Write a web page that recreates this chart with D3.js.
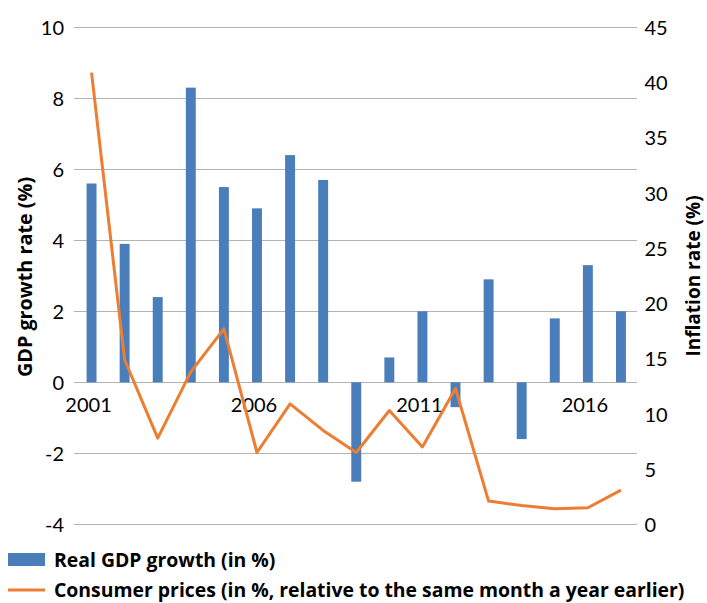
<!DOCTYPE html>
<html>
<head>
<meta charset="utf-8">
<script src="https://cdn.jsdelivr.net/npm/d3@7/dist/d3.min.js"></script>
<style>
  html, body { margin: 0; padding: 0; background: #fff; }
  svg { display: block; font-family: Lato, "Open Sans", sans-serif; }
</style>
</head>
<body>
<svg id="chart" width="707" height="603"></svg>
<script>
// Years on the category axis
const years = [2001, 2002, 2003, 2004, 2005, 2006, 2007, 2008, 2009,
               2010, 2011, 2012, 2013, 2014, 2015, 2016, 2017];
// Real GDP growth, % (left axis)
const gdpGrowth = [5.6, 3.9, 2.4, 8.3, 5.5, 4.9, 6.4, 5.7, -2.8,
                   0.7, 2.0, -0.7, 2.9, -1.6, 1.8, 3.3, 2.0];
// Consumer price inflation, % year on year (right axis)
const inflation = [40.9, 14.9, 7.8, 13.8, 17.7, 6.5, 10.9, 8.5, 6.5,
                   10.3, 7.0, 12.3, 2.1, 1.7, 1.4, 1.5, 3.1];
// Tick labels
const leftTicks = [-4, -2, 0, 2, 4, 6, 8, 10];
const rightTicks = [0, 5, 10, 15, 20, 25, 30, 35, 40, 45];
const yearLabels = [2001, 2006, 2011, 2016];
// Legend entries
const seriesNames = ["Real GDP growth (in %)",
                     "Consumer prices (in %, relative to the same month a year earlier)"];

const blue = "#4a7ebb";
const orange = "#ed7d31";
const grid = "#b3b3b3";
const tickFont = "Lato, sans-serif";
const boldFont = "'Open Sans', sans-serif";
const plain = d => String(d);   // plain hyphen for negatives

const svg = d3.select("#chart");
const plot = { left: 75, right: 637.5, top: 27.3, bottom: 524.3 };

const x = d3.scaleBand()
  .domain(years)
  .range([plot.left, plot.right])
  .paddingInner(0.7)
  .paddingOuter(0.35);
const cx = d => x(d) + x.bandwidth() / 2;

const yL = d3.scaleLinear().domain([-4, 10]).range([plot.bottom, plot.top]);
const yR = d3.scaleLinear().domain([0, 45]).range([plot.bottom, plot.top]);

// Horizontal gridlines from the left axis
const leftAxis = d3.axisLeft(yL).tickValues(leftTicks)
  .tickSize(-(plot.right - plot.left + 0.5)).tickPadding(10).tickFormat(plain);
const gL = svg.append("g").attr("transform", `translate(${plot.left - 1},0)`).call(leftAxis);
gL.select(".domain").remove();
gL.selectAll(".tick line").attr("stroke", grid).attr("stroke-width", 1)
  .attr("shape-rendering", "crispEdges");
gL.selectAll(".tick text").attr("font-size", 20).attr("fill", "#000")
  .attr("font-family", tickFont).attr("dy", "0.36em");

// Right axis labels
const rightAxis = d3.axisRight(yR).tickValues(rightTicks).tickSize(0).tickPadding(7)
  .tickFormat(plain);
const gR = svg.append("g").attr("transform", `translate(${plot.right},0)`).call(rightAxis);
gR.select(".domain").remove();
gR.selectAll(".tick text").attr("font-size", 20).attr("fill", "#000")
  .attr("font-family", tickFont).attr("dy", "0.36em");

// GDP bars
svg.append("g").selectAll("rect")
  .data(years.map((yr, i) => ({ yr, v: gdpGrowth[i] })))
  .join("rect")
  .attr("x", d => x(d.yr))
  .attr("width", x.bandwidth())
  .attr("y", d => yL(Math.max(0, d.v)))
  .attr("height", d => Math.abs(yL(d.v) - yL(0)))
  .attr("fill", blue);

// Year labels just below the zero line
const xAxis = d3.axisBottom(x).tickValues(yearLabels).tickSize(0).tickPadding(16)
  .tickFormat(plain);
const gX = svg.append("g").attr("transform", `translate(-3,${yL(0)})`).call(xAxis);
gX.select(".domain").remove();
gX.selectAll(".tick text").attr("font-size", 20).attr("fill", "#000")
  .attr("font-family", tickFont);

// Inflation line
const line = d3.line().x((d, i) => cx(years[i])).y(d => yR(d));
svg.append("path")
  .datum(inflation)
  .attr("d", line)
  .attr("fill", "none")
  .attr("stroke", orange)
  .attr("stroke-width", 3)
  .attr("stroke-linejoin", "round");

// Axis titles
svg.append("text")
  .attr("transform", "translate(32,277) rotate(-90)")
  .attr("text-anchor", "middle")
  .attr("font-family", boldFont)
  .attr("font-size", 19.8).attr("font-weight", "bold")
  .text("GDP growth rate (%)");
svg.append("text")
  .attr("transform", "translate(700,276) rotate(-90)")
  .attr("text-anchor", "middle")
  .attr("font-family", boldFont)
  .attr("font-size", 19).attr("font-weight", "bold")
  .text("Inflation rate (%)");

// Legend
const lg = svg.append("g");
lg.append("rect").attr("x", 8).attr("y", 553).attr("width", 37).attr("height", 13).attr("fill", blue);
lg.append("line").attr("x1", 8).attr("x2", 45).attr("y1", 590).attr("y2", 590)
  .attr("stroke", orange).attr("stroke-width", 3);
lg.selectAll("text").data(seriesNames).join("text")
  .attr("x", 54)
  .attr("y", (d, i) => 567 + i * 30)
  .attr("font-family", boldFont)
  .attr("font-size", 19.4).attr("font-weight", "bold")
  .text(d => d);
</script>
</body>
</html>
